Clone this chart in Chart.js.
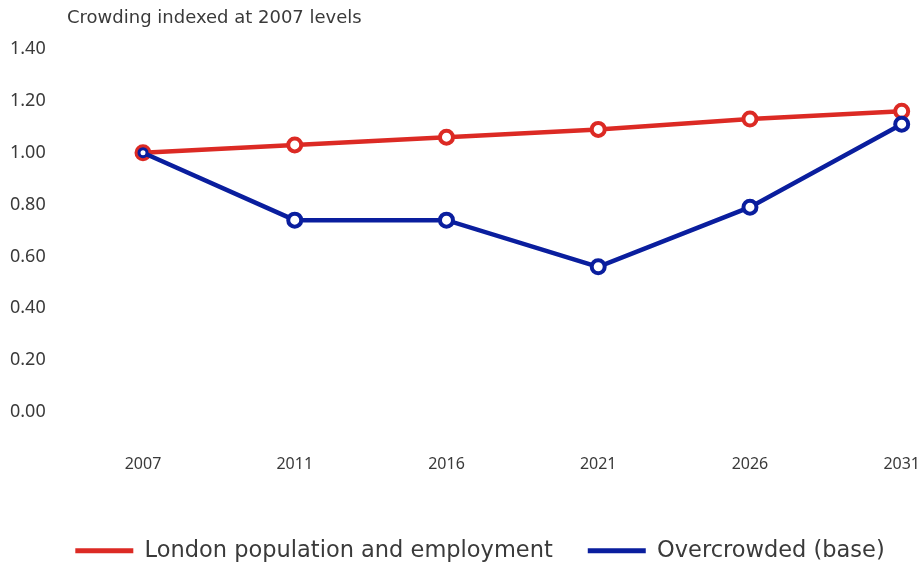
<!DOCTYPE html>
<html>
<head>
<meta charset="utf-8">
<script src="https://cdn.jsdelivr.net/npm/chart.js@4/dist/chart.umd.min.js"></script>
<style>
html,body{margin:0;padding:0;background:#fff;overflow:hidden;}
#wrap{width:922px;height:565px;position:relative;}
</style>
</head>
<body>
<div id="wrap"><canvas id="c"></canvas></div>
<script>
const years = ['2007', '2011', '2016', '2021', '2026', '2031'];
const londonPopEmployment = [1.00, 1.03, 1.06, 1.09, 1.13, 1.16];
const overcrowdedBase = [1.00, 0.74, 0.74, 0.56, 0.79, 1.11];
const yTicks = [0, 0.2, 0.4, 0.6, 0.8, 1.0, 1.2, 1.4];
const axisTitle = 'Crowding indexed at 2007 levels';
const seriesNames = ['London population and employment', 'Overcrowded (base)'];

const RED = '#DC2A24';
const BLUE = '#0A1E9E';
const TXT = '#3a3a3a';
const FONT = '"Noto Sans", "Open Sans", sans-serif';
const WIDE = '"DejaVu Sans", "Noto Sans", sans-serif';

const titlePlugin = {
  id: 'topTitle',
  afterLayout(chart) {
    // nudge the centred legend to the right, as in the reference
    if (chart.legend) { chart.legend.left += 24; chart.legend.right += 24; }
  },
  afterDraw(chart) {
    const ctx = chart.ctx;
    ctx.save();
    ctx.font = '18px ' + WIDE;
    ctx.fillStyle = TXT;
    ctx.textBaseline = 'middle';
    ctx.textAlign = 'left';
    ctx.fillText(axisTitle, 67, 18);
    ctx.restore();
  }
};

new Chart(document.getElementById('c'), {
  type: 'line',
  data: {
    labels: years,
    datasets: [
      {
        label: seriesNames[0],
        data: londonPopEmployment,
        borderColor: RED,
        backgroundColor: RED,
        borderWidth: 4.5,
        pointRadius: 6.5,
        pointBorderWidth: 4,
        pointBackgroundColor: '#fff',
        pointBorderColor: RED,
        tension: 0,
        order: 1
      },
      {
        label: seriesNames[1],
        data: overcrowdedBase,
        borderColor: BLUE,
        backgroundColor: BLUE,
        borderWidth: 4.5,
        pointRadius: ctx => ctx.dataIndex === 0 ? 4 : 6.5,
        pointBorderWidth: ctx => ctx.dataIndex === 0 ? 3 : 4,
        pointBackgroundColor: '#fff',
        pointBorderColor: BLUE,
        tension: 0,
        order: 0
      }
    ]
  },
  options: {
    responsive: true,
    maintainAspectRatio: false,
    animation: false,
    layout: { padding: { top: 49, right: 20, left: 10, bottom: -7 } },
    plugins: {
      tooltip: { enabled: false },
      legend: {
        position: 'bottom',
        labels: {
          boxWidth: 58,
          boxHeight: 5,
          padding: 35,
          color: TXT,
          font: { family: WIDE, size: 22.5 },
          sort: (a, b) => a.datasetIndex - b.datasetIndex,
          generateLabels: chart => chart.data.datasets.map((d, i) => ({
            text: d.label,
            fillStyle: d.borderColor,
            strokeStyle: d.borderColor,
            lineWidth: 0,
            datasetIndex: i,
            fontColor: TXT
          }))
        }
      }
    },
    scales: {
      x: {
        offset: false,
        grid: { display: true, drawOnChartArea: false, drawTicks: true, tickLength: 41, color: 'rgba(0,0,0,0)' },
        border: { display: false },
        ticks: { color: TXT, font: { family: FONT, size: 16 }, padding: 2, maxRotation: 0 },
        afterFit: s => { s.height = 92.5; }
      },
      y: {
        min: 0,
        max: 1.4,
        grid: { display: false, drawTicks: false },
        border: { display: false },
        afterBuildTicks: s => { s.ticks = yTicks.map(v => ({ value: v })); },
        ticks: {
          color: TXT,
          font: { family: FONT, size: 18 },
          padding: 2,
          crossAlign: 'far',
          callback: v => Number(v).toFixed(2)
        },
        afterFit: s => { s.width = 133; }
      }
    }
  },
  plugins: [titlePlugin]
});
</script>
</body>
</html>
